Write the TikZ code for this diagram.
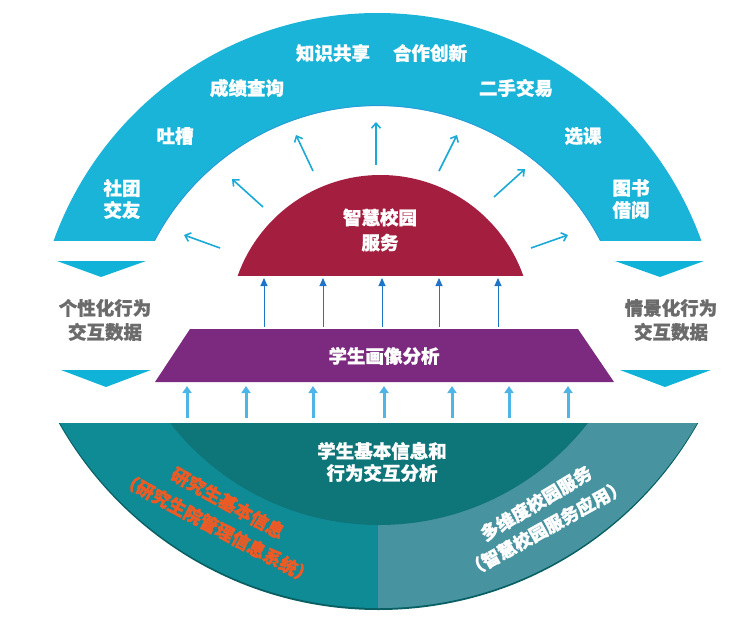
\documentclass[tikz,border=0pt]{standalone}
\usepackage{fontspec}
\setmainfont{Noto Sans CJK SC}
\newfontfamily\hv{Noto Sans CJK SC}[BoldFeatures={FakeBold=1.0}]
\usetikzlibrary{arrows.meta}
\definecolor{bandc}{HTML}{1BB4D9}
\definecolor{bandedge}{HTML}{2A9AD6}
\definecolor{triC}{HTML}{10B2D8}
\definecolor{domec}{HTML}{A41F3F}
\definecolor{purp}{HTML}{7B2A7F}
\definecolor{tealA}{HTML}{0F8B95}
\definecolor{tealD}{HTML}{0E7579}
\definecolor{tealL}{HTML}{4893A0}
\definecolor{tealS}{HTML}{0A5F63}
\definecolor{orangec}{HTML}{EE5A24}
\definecolor{grayc}{HTML}{6B6B6B}
\definecolor{darkarrow}{HTML}{1E74C6}
\definecolor{lightarrow}{HTML}{4FB5E6}
\definecolor{cyanarrow}{HTML}{1BAAD6}
\begin{document}
\begin{tikzpicture}[x=1pt,y=-1pt,
  lbl/.style={text=white,font=\hv\bfseries\fontsize{18.5}{22}\selectfont,align=center,inner sep=0pt},
  domelbl/.style={lbl,font=\hv\bfseries\fontsize{18.5}{25}\selectfont},
  sidelbl/.style={text=grayc,font=\hv\bfseries\fontsize{18.5}{24}\selectfont,align=center,inner sep=0pt},
  rotlbl/.style={font=\hv\bfseries\fontsize{18}{22}\selectfont,inner sep=0pt},
  outarrow/.style={cyanarrow,line width=1.6pt,-{Straight Barb[length=5pt,width=9pt]}},
  uparrow/.style={darkarrow,line width=0.9pt,-{Triangle[length=8pt,width=7pt]}},
  thickarrow/.style={lightarrow,line width=3pt,-{Triangle[length=7pt,width=9pt]}},
  tri/.style={fill=triC}]
\useasboundingbox (0,0) rectangle (756,619);

% ---------- top band ----------
\begin{scope}
  \clip (0,0) rectangle (756,240);
  \fill[bandc,even odd rule] (377.5,357) circle[radius=344pt] (377.5,357) circle[radius=251pt];
  \draw[bandedge,line width=0.8pt] (377.5,357) circle[radius=251.5pt];
\end{scope}

% band labels
\node[lbl] (l1) at (333,53) {知识共享};
\node[lbl] (l2) at (430,53) {合作创新};
\node[lbl] (l3) at (247,88) {成绩查询};
\node[lbl] (l4) at (516,88) {二手交易};
\node[lbl] (l5) at (175,136) {吐槽};
\node[lbl] (l6) at (583,136) {选课};
\node[lbl] (l7) at (122,199) {社团\\交友};
\node[lbl] (l8) at (631,199) {图书\\借阅};

% ---------- triangles ----------
\fill[tri] (57,261) -- (146,261) -- (101,277) -- cycle;
\fill[tri] (61,370) -- (151,370) -- (106,387) -- cycle;
\fill[tri] (615,261) -- (704,261) -- (660,277) -- cycle;
\fill[tri] (620,370) -- (711,370) -- (665,387) -- cycle;

\node[sidelbl] (sl) at (105,320) {个性化行为\\交互数据};
\node[sidelbl] (sr) at (671,320) {情景化行为\\交互数据};

% ---------- dome ----------
\begin{scope}
  \clip (0,0) rectangle (756,275);
  \fill[domec] (380.5,326.5) circle[radius=151.5pt];
\end{scope}
\node[domelbl] (dome) at (380,230) {智慧校园\\服务};

% arrows from dome into band
\coordinate (a1s) at (220,248); \coordinate (a1e) at (184,235);
\coordinate (a2s) at (263,207); \coordinate (a2e) at (232,179);
\coordinate (a3s) at (313,171); \coordinate (a3e) at (296,135);
\coordinate (a4s) at (376,165); \coordinate (a4e) at (376,122);
\coordinate (a5s) at (439,171); \coordinate (a5e) at (457,135);
\coordinate (a6s) at (494,197); \coordinate (a6e) at (525,169);
\coordinate (a7s) at (531,248); \coordinate (a7e) at (568,235);
\foreach \i in {1,...,7} \draw[outarrow] (a\i s) -- (a\i e);

% ---------- purple trapezoid ----------
\fill[purp] (190,329) -- (578,329) -- (614,382) -- (155,382) -- cycle;
\node[lbl] (pa) at (384,356) {学生画像分析};

% dark arrows purple -> dome
\foreach \x [count=\i] in {264,323,382,439,498} {
  \coordinate (b\i s) at (\x,327);
  \coordinate (b\i e) at (\x,278);
  \draw[uparrow] (b\i s) -- (b\i e);
}

% ---------- teal base ----------
\begin{scope}
  \clip (0,423) rectangle (756,619);
  \fill[tealS] (378.5,243.3) circle[radius=366.7pt];
  \fill[tealA] (378.5,241.3) circle[radius=366.7pt];
  \begin{scope}
    \clip (378,423) rectangle (756,619);
    \fill[tealL] (378.5,241.3) circle[radius=366.7pt];
  \end{scope}
  \fill[tealD] (379,260) circle[radius=265pt];
\end{scope}
\node[lbl] (base) at (382,462) {学生基本信息和\\行为交互分析};

% light arrows teal -> purple
\foreach \x [count=\i] in {187,246,313,384,452,509,568} {
  \coordinate (c\i s) at (\x,418);
  \coordinate (c\i e) at (\x,386);
  \draw[thickarrow] (c\i s) -- (c\i e);
}

% rotated labels
\node[rotlbl,text=orangec,rotate=-29] (rl1) at (228,503) {研究生基本信息};
\node[rotlbl,text=orangec,rotate=-28] (rl2) at (217,528) {（研究生院管理信息系统）};
\node[rotlbl,text=white,rotate=31] (rr1) at (536,503) {多维度校园服务};
\node[rotlbl,text=white,rotate=29] (rr2) at (546,528) {（智慧校园服务应用）};
\end{tikzpicture}
\end{document}
